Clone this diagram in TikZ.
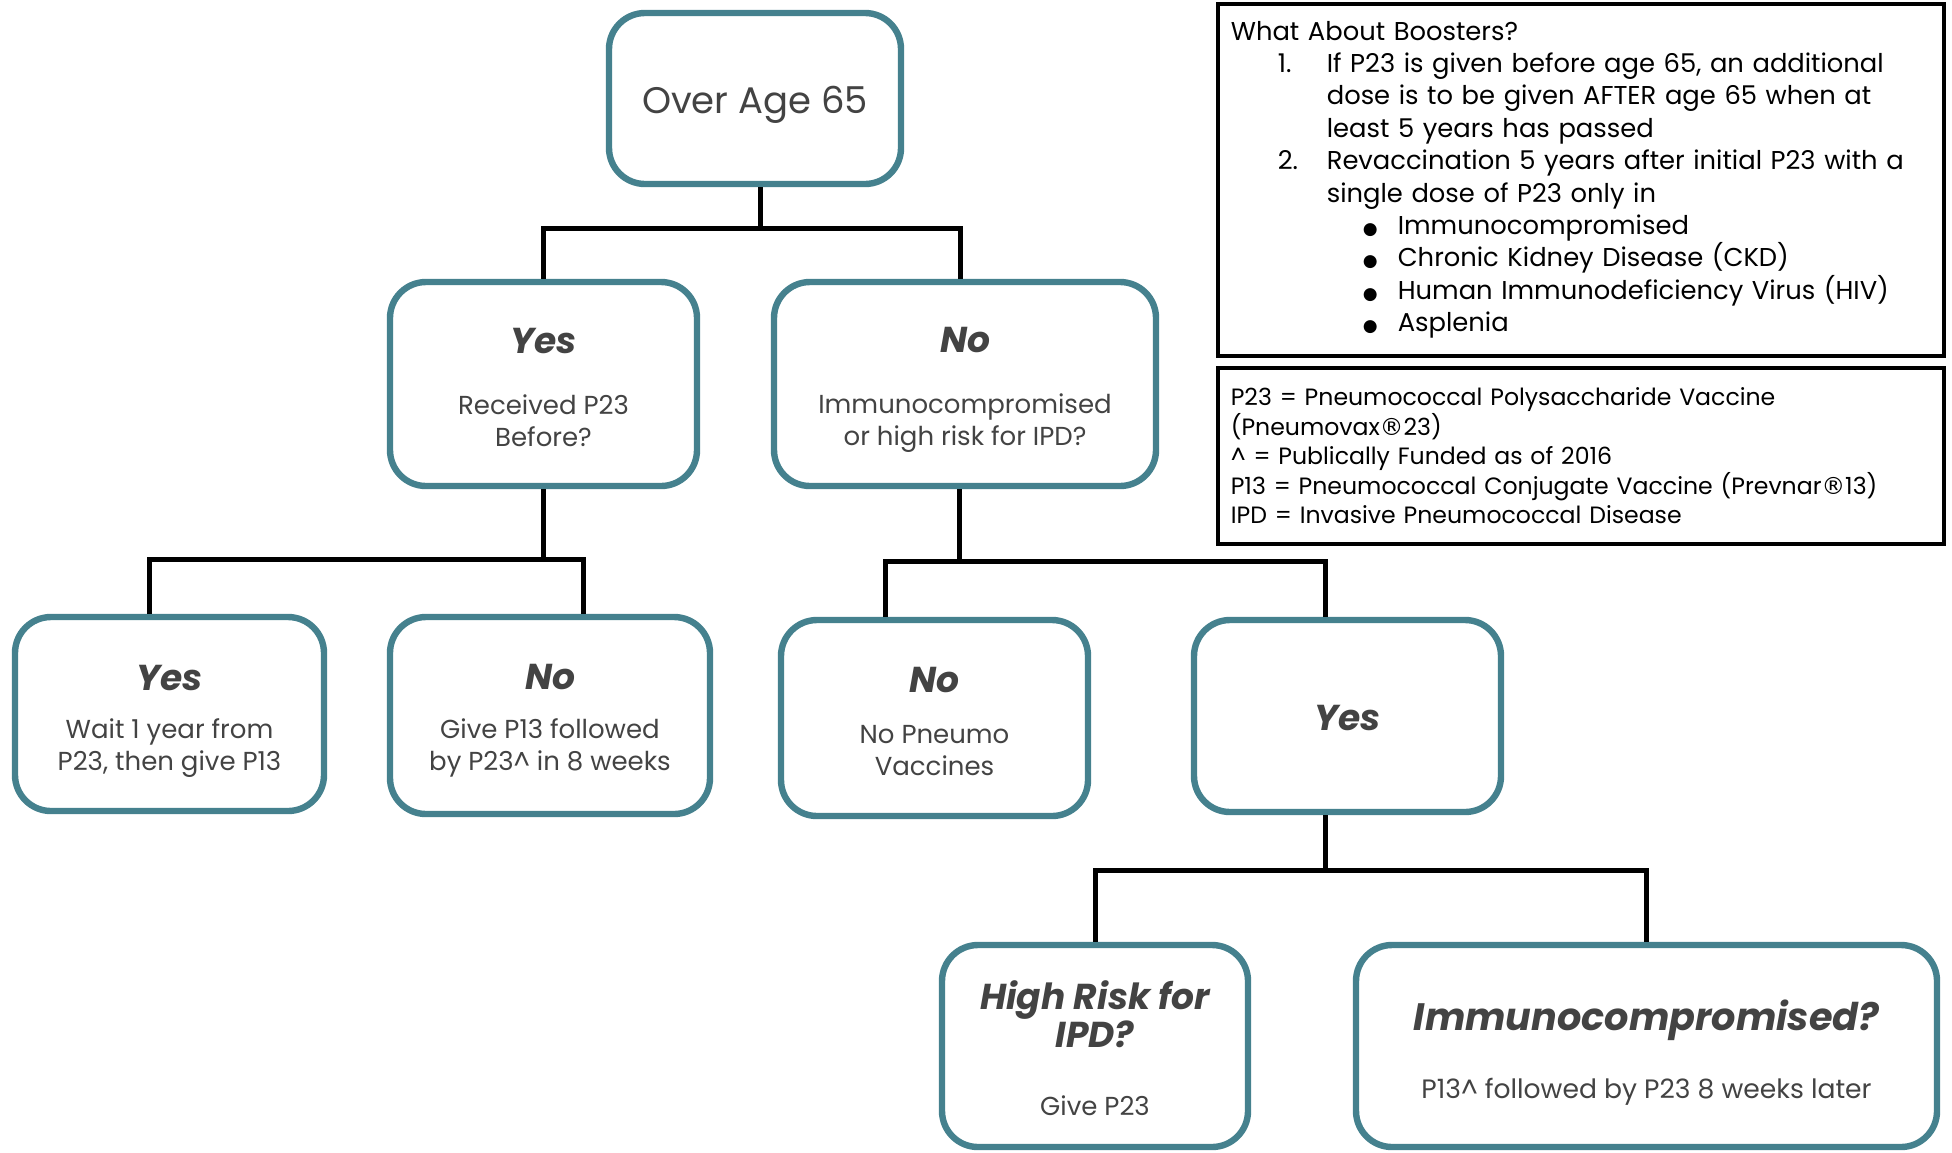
\documentclass[tikz,border=0pt]{standalone}
\usepackage{fontspec}
\setmainfont{Poppins}
\newfontfamily\symfont{DejaVu Sans}
\usetikzlibrary{positioning}
\definecolor{boxteal}{HTML}{45818E}
\definecolor{textgray}{HTML}{434343}
\newcommand{\headfont}{\fontsize{18}{22}\selectfont\bfseries\itshape}
\newcommand{\bodyfont}{\fontsize{13}{16}\selectfont}
\newcommand{\regmark}{{\symfont\textregistered}}
\newcommand{\bulletitem}{\hspace*{66pt}\makebox[17.5pt][l]{{\symfont\fontsize{8.5}{8.5}\selectfont ●}}}

\begin{document}
\begin{tikzpicture}[x=0.5pt,y=-0.5pt,
  decision/.style={draw=boxteal, line width=3.2pt, rounded corners=18pt, fill=white, inner sep=0pt},
  boxtext/.style={align=center, text=textgray, font=\bodyfont, inner sep=0pt},
  branch/.style={line width=2.5pt, black},
  infobox/.style={draw=black, line width=1.8pt, align=left, anchor=north west,
    inner xsep=6pt, inner ysep=0pt, text width=350pt, minimum width=363pt}
]
\useasboundingbox (0,0) rectangle (1952,1152);

% --- Top question
\node[decision, minimum width=146pt, minimum height=85.5pt,
  label={[boxtext, yshift=-3.1pt, font=\fontsize{18.5}{22}\selectfont]center:Over Age 65}]
  (age) at (755,98.5) {};

% --- Second row
\node[decision, minimum width=153.5pt, minimum height=102pt,
  label={[boxtext, yshift=-1.6pt]center:{{\headfont Yes}\\[14.6pt]Received P23\\Before?}}]
  (recv) at (543.5,384) {};
\node[decision, minimum width=191pt, minimum height=102pt,
  label={[boxtext, yshift=-3.1pt]center:{{\headfont No}\\[14.6pt]Immunocompromised\\or high risk for IPD?}}]
  (risk) at (965,384) {};

% --- Third row
\node[decision, minimum width=154.5pt, minimum height=97pt,
  label={[boxtext, yshift=-3.7pt]center:{{\headfont Yes}\\[8.3pt]Wait 1 year from\\P23, then give P13}}]
  (waityear) at (169.5,714) {};
\node[decision, minimum width=160pt, minimum height=98.5pt,
  label={[boxtext, yshift=-2.5pt]center:{{\headfont No}\\[8.3pt]Give P13 followed\\by P23\textasciicircum{} in 8 weeks}}]
  (givep13) at (550,715.5) {};
\node[decision, minimum width=153.5pt, minimum height=98pt,
  label={[boxtext, yshift=-1.5pt]center:{{\headfont No}\\[9.5pt]No Pneumo\\Vaccines}}]
  (novacc) at (934.5,718) {};
\node[decision, minimum width=153.5pt, minimum height=96pt,
  label={[boxtext, yshift=-1.2pt]center:{\headfont Yes}}]
  (riskyes) at (1347.5,716) {};

% --- Bottom row
\node[decision, minimum width=153pt, minimum height=101pt,
  label={[boxtext, yshift=-1pt]center:{{\headfont High Risk for}\\{\headfont IPD?}\\[18pt]Give P23}}]
  (highrisk) at (1095,1046) {};
\node[decision, minimum width=290.5pt, minimum height=101pt,
  label={[boxtext, yshift=-3.1pt]center:{{\headfont\fontsize{19.1}{22}\selectfont Immunocompromised?}\\[18pt]{\fontsize{13.3}{16}\selectfont P13\textasciicircum{} followed by P23 8 weeks later}}}]
  (immuno) at (1646.5,1046) {};

% --- Info boxes
\node[infobox, minimum height=176pt, font=\fontsize{12.9}{16.2}\selectfont] (boosters) at (1216,2)
  {What About Boosters?\\
  \hspace*{23.5pt}\makebox[24.5pt][l]{1.}If P23 is given before age 65, an additional\\
  \hspace*{48pt}dose is to be given AFTER age 65 when at\\
  \hspace*{48pt}least 5 years has passed\\
  \hspace*{23.5pt}\makebox[24.5pt][l]{2.}Revaccination 5 years after initial P23 with a\\
  \hspace*{48pt}single dose of P23 only in\\
  \bulletitem Immunocompromised\\
  \bulletitem Chronic Kidney Disease (CKD)\\
  \bulletitem Human Immunodeficiency Virus (HIV)\\
  \bulletitem Asplenia};
\node[infobox, minimum height=88pt, font=\fontsize{11.8}{14.75}\selectfont] (legend) at (1216,366)
  {P23 = Pneumococcal Polysaccharide Vaccine\\
  (Pneumovax\regmark23)\\
  \textasciicircum{} = Publically Funded as of 2016\\
  P13 = Pneumococcal Conjugate Vaccine (Prevnar\regmark13)\\
  IPD = Invasive Pneumococcal Disease};

% --- Connectors
\coordinate (j1) at (760,228);
\coordinate (j2) at (543,559);
\coordinate (j3) at (959,561);
\coordinate (j4) at (1325,870);
\draw[branch] (j1 |- age.south) -- (j1);
\draw[branch] (recv.north) |- (j1) -| ([xshift=-2.5pt]risk.north);
\draw[branch] (recv.south) -- (recv.south |- j2);
\draw[branch] ([xshift=-10.25pt]waityear.north) |- (j2) -| ([xshift=16.5pt]givep13.north);
\draw[branch] (j3 |- risk.south) -- (j3);
\draw[branch] ([xshift=-24.75pt]novacc.north) |- (j3) -| ([xshift=-11.25pt]riskyes.north);
\draw[branch] (j4 |- riskyes.south) -- (j4);
\draw[branch] (highrisk.north) |- (j4) -| (immuno.north);

\end{tikzpicture}
\end{document}
